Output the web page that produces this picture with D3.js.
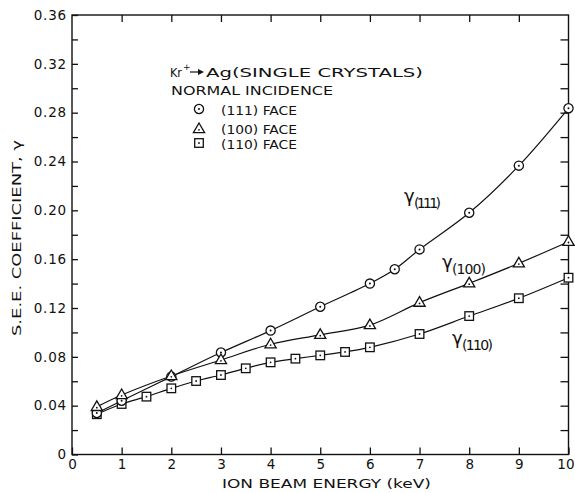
<!DOCTYPE html>
<html>
<head>
<meta charset="utf-8">
<script src="https://cdn.jsdelivr.net/npm/d3@7"></script>
<style>
  html, body { margin: 0; padding: 0; background: #fff; }
  svg { display: block; }
  text { font-family: "DejaVu Sans", sans-serif; fill: #111; }
</style>
</head>
<body>
<svg id="chart" width="575" height="493"></svg>
<script>
// ---- data ----
const energy111 = [0.5, 1, 2, 3, 4, 5, 6, 6.5, 7, 8, 9, 10];
const gamma111  = [0.034, 0.044, 0.0638, 0.0835, 0.1015, 0.121, 0.140, 0.1517, 0.168, 0.198, 0.2366, 0.2836];
const energy100 = [0.5, 1, 2, 3, 4, 5, 6, 7, 8, 9, 10];
const gamma100  = [0.039, 0.0487, 0.0643, 0.0774, 0.0903, 0.098, 0.106, 0.1244, 0.1402, 0.1566, 0.1743];
const energy110 = [0.5, 1, 1.5, 2, 2.5, 3, 3.5, 4, 4.5, 5, 5.5, 6, 7, 8, 9, 10];
const gamma110  = [0.033, 0.0414, 0.0474, 0.0542, 0.0602, 0.0651, 0.0706, 0.0755, 0.0785, 0.0812, 0.084, 0.0878, 0.0987, 0.1134, 0.128, 0.1448];

const xTickValues = [0, 1, 2, 3, 4, 5, 6, 7, 8, 9, 10];
const xTickLabels = ["0", "1", "2", "3", "4", "5", "6", "7", "8", "9", "10"];
const yTickValues = [0, 0.02, 0.04, 0.06, 0.08, 0.10, 0.12, 0.14, 0.16, 0.18, 0.20, 0.22, 0.24, 0.26, 0.28, 0.30, 0.32, 0.34, 0.36];
const yLabelValues = [0, 0.04, 0.08, 0.12, 0.16, 0.20, 0.24, 0.28, 0.32, 0.36];
const yLabelTexts  = ["0", "0.04", "0.08", "0.12", "0.16", "0.20", "0.24", "0.28", "0.32", "0.36"];

const xTitle = "ION BEAM ENERGY (keV)";
const yTitle = "S.E.E. COEFFICIENT, γ";
const legendTitle1a = "Kr";
const legendTitle1b = "Ag(SINGLE CRYSTALS)";
const legendTitle2 = "NORMAL INCIDENCE";
const seriesNames = ["(111) FACE", "(100) FACE", "(110) FACE"];
const seriesSubs = ["(111)", "(100)", "(110)"];

// ---- layout ----
const svg = d3.select("#chart");
const L = 72, R = 568.5, T = 15, B = 454.5;
const x = d3.scaleLinear().domain([0, 10]).range([L, R]);
const y = d3.scaleLinear().domain([0, 0.36]).range([B, T]);

const ink = "#111";

// frame
svg.append("rect").attr("x", L).attr("y", T).attr("width", R - L).attr("height", B - T)
  .attr("fill", "none").attr("stroke", ink).attr("stroke-width", 1.4);

function styleAxis(g) {
  g.select(".domain").remove();
  g.selectAll(".tick line").attr("stroke", ink).attr("stroke-width", 1.3);
}

// bottom axis with labels
const xLabelMap = new Map(xTickValues.map((v, i) => [v, xTickLabels[i]]));
svg.append("g").attr("transform", `translate(0,${B})`)
  .call(d3.axisBottom(x).tickValues(xTickValues).tickSizeInner(-7).tickSizeOuter(0).tickPadding(5)
    .tickFormat(d => xLabelMap.get(d)))
  .call(styleAxis)
  .call(g => g.selectAll("text").attr("font-size", 13.5).attr("font-family", "DejaVu Sans").attr("fill", ink))
  .call(g => g.selectAll(".tick").filter(d => d === 10).select("text")
    .attr("text-anchor", "end").attr("x", 5.5));

// top axis
svg.append("g").attr("transform", `translate(0,${T})`)
  .call(d3.axisTop(x).tickValues(xTickValues.slice(1, -1)).tickSizeInner(-7).tickSizeOuter(0).tickFormat(""))
  .call(styleAxis);

// left axis
const yLabelMap = new Map(yLabelValues.map((v, i) => [v.toFixed(2), yLabelTexts[i]]));
svg.append("g").attr("transform", `translate(${L},0)`)
  .call(d3.axisLeft(y).tickValues(yTickValues).tickSizeInner(-6).tickSizeOuter(0).tickPadding(5)
    .tickFormat(d => yLabelMap.get(d.toFixed(2)) || ""))
  .call(styleAxis)
  .call(g => g.selectAll("text").attr("font-size", 13.5).attr("font-family", "DejaVu Sans")
    .attr("letter-spacing", "0.8px").attr("fill", ink));

// right axis
svg.append("g").attr("transform", `translate(${R},0)`)
  .call(d3.axisRight(y).tickValues(yTickValues.slice(1, -1)).tickSizeInner(-8).tickSizeOuter(0).tickFormat(""))
  .call(styleAxis);

// axis titles
svg.append("text").attr("x", 326.5).attr("y", 488).attr("text-anchor", "middle")
  .attr("font-size", 12.5).attr("textLength", 209).attr("lengthAdjust", "spacingAndGlyphs").text(xTitle);

svg.append("text").attr("transform", "translate(21,238) rotate(-90)").attr("text-anchor", "middle")
  .attr("font-size", 13).attr("textLength", 196).attr("lengthAdjust", "spacingAndGlyphs").text(yTitle);

// ---- series ----
const series = [
  { xs: energy111, ys: gamma111, shape: "circle" },
  { xs: energy100, ys: gamma100, shape: "triangle" },
  { xs: energy110, ys: gamma110, shape: "square" }
];

const line = d3.line().x(d => x(d[0])).y(d => y(d[1])).curve(d3.curveCatmullRom.alpha(0.5));

series.forEach(s => {
  const pts = s.xs.map((v, i) => [v, s.ys[i]]);
  svg.append("path").datum(pts).attr("d", line)
    .attr("fill", "none").attr("stroke", ink).attr("stroke-width", 1.2);
});

function drawMarker(g, shape, cx, cy) {
  const m = g.append("g").attr("transform", `translate(${cx},${cy})`);
  if (shape === "circle") {
    m.append("circle").attr("r", 4.6).attr("fill", "#fff").attr("stroke", ink).attr("stroke-width", 1.3);
    m.append("circle").attr("r", 1).attr("fill", ink);
  } else if (shape === "triangle") {
    m.append("path").attr("d", "M0,-6L5.6,3.6L-5.6,3.6Z").attr("fill", "#fff").attr("stroke", ink).attr("stroke-width", 1.3);
    m.append("circle").attr("cy", 0.8).attr("r", 0.9).attr("fill", ink);
  } else {
    m.append("rect").attr("x", -4.3).attr("y", -4.3).attr("width", 8.6).attr("height", 8.6)
      .attr("fill", "#fff").attr("stroke", ink).attr("stroke-width", 1.3);
    m.append("circle").attr("r", 0.9).attr("fill", ink);
  }
}

const mk = svg.append("g");
[2, 0, 1].forEach(k => {
  const s = series[k];
  s.xs.forEach((v, i) => drawMarker(mk, s.shape, x(v), y(s.ys[i])));
});

// ---- legend ----
const lg = svg.append("g");
const lgFont = 12.5;
lg.append("text").attr("x", 170).attr("y", 77).attr("font-size", lgFont)
  .attr("textLength", 12).attr("lengthAdjust", "spacingAndGlyphs").text(legendTitle1a);
lg.append("text").attr("x", 183).attr("y", 70).attr("font-size", 9).text("+");
lg.append("line").attr("x1", 190).attr("x2", 199).attr("y1", 72).attr("y2", 72).attr("stroke", ink).attr("stroke-width", 1.2);
lg.append("path").attr("d", "M198,69L204,72L198,75Z").attr("fill", ink);
lg.append("text").attr("x", 206).attr("y", 77).attr("font-size", lgFont)
  .attr("textLength", 217).attr("lengthAdjust", "spacingAndGlyphs").text(legendTitle1b);
lg.append("text").attr("x", 171).attr("y", 95).attr("font-size", lgFont)
  .attr("textLength", 162).attr("lengthAdjust", "spacingAndGlyphs").text(legendTitle2);

const legendY = [109, 128, 143];
const legendShapes = ["circle", "triangle", "square"];
seriesNames.forEach((name, i) => {
  drawMarker(lg, legendShapes[i], 199, legendY[i] + (i === 1 ? 1 : 0));
  lg.append("text").attr("x", 221).attr("y", legendY[i] + 5.5).attr("font-size", lgFont)
    .attr("textLength", 76).attr("lengthAdjust", "spacingAndGlyphs").text(name);
});

// ---- curve labels ----
const curveLabels = [
  { gx: 404, gy: 202, sub: seriesSubs[0], subW: 27 },
  { gx: 442, gy: 268, sub: seriesSubs[1], subW: 34 },
  { gx: 452, gy: 344, sub: seriesSubs[2], subW: 31 }
];
curveLabels.forEach(c => {
  svg.append("text").attr("x", c.gx).attr("y", c.gy).attr("font-size", 18).text("γ");
  svg.append("text").attr("x", c.gx + 10).attr("y", c.gy + 6).attr("font-size", 14)
    .attr("textLength", c.subW).attr("lengthAdjust", "spacing").text(c.sub);
});
</script>
</body>
</html>
